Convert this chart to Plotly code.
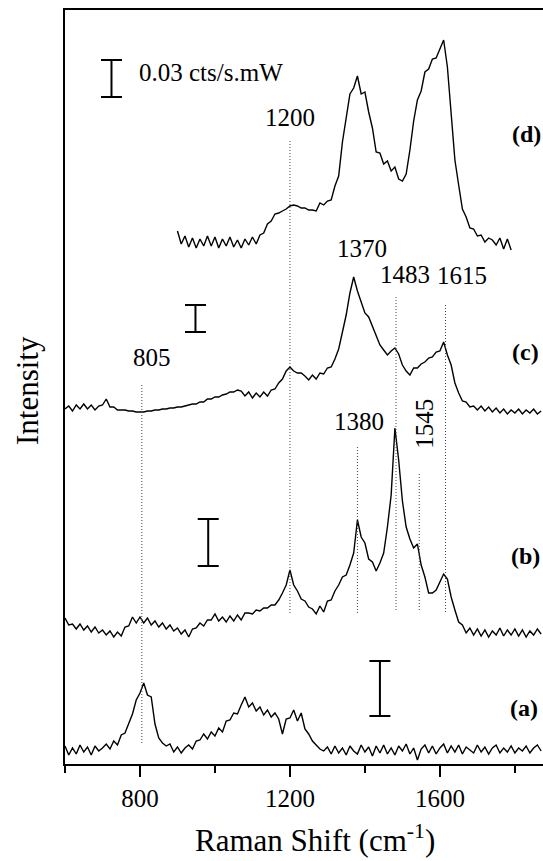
import plotly.graph_objects as go

# ---------------- data ----------------
X_FULL = list(range(600, 1880, 10))   # 600 ... 1870 cm-1
X_D = list(range(900, 1800, 10))      # 900 ... 1790 cm-1

# intensities (arbitrary offset units, stacked)
SPEC_A = [18, 9, 16, 10, 19, 12, 17, 9, 18, 13,
          16, 20, 15, 23, 19, 29, 31, 40, 50, 64,
          71, 81, 69, 67, 40, 26, 21, 18, 20, 12,
          17, 11, 16, 19, 15, 23, 24, 30, 25, 32,
          28, 36, 32, 43, 44, 51, 50, 59, 67, 57,
          61, 53, 57, 49, 54, 47, 51, 45, 30, 45,
          46, 54, 43, 51, 35, 30, 23, 19, 15, 13,
          17, 10, 18, 11, 16, 9, 18, 13, 10, 19,
          12, 17, 8, 18, 11, 19, 10, 16, 9, 18,
          13, 20, 10, 16, 4, 15, 19, 11, 18, 10,
          16, 20, 11, 18, 12, 19, 10, 17, 14, 11,
          19, 12, 17, 10, 16, 19, 11, 16, 12, 18,
          11, 16, 13, 18, 11, 16, 19, 13]

SPEC_B = [146, 139, 140, 135, 140, 134, 138, 132, 137, 131,
          134, 129, 133, 127, 132, 128, 137, 138, 147, 141,
          147, 141, 146, 139, 143, 137, 141, 135, 139, 133,
          136, 130, 134, 127, 135, 136, 141, 138, 144, 144,
          150, 143, 147, 142, 148, 143, 149, 144, 151, 151,
          150, 154, 153, 156, 156, 159, 159, 164, 171, 179,
          194, 179, 173, 165, 163, 157, 155, 150, 158, 152,
          163, 164, 173, 179, 187, 189, 199, 211, 244, 227,
          221, 205, 202, 193, 201, 211, 237, 269, 336, 304,
          263, 237, 225, 216, 220, 199, 187, 171, 171, 174,
          182, 190, 185, 167, 154, 142, 139, 131, 136, 129,
          135, 128, 134, 127, 133, 129, 136, 128, 134, 129,
          135, 128, 134, 127, 133, 129, 135, 130]

SPEC_C = [355, 358, 353, 359, 355, 360, 355, 359, 354, 358,
          359, 365, 357, 357, 354, 354, 354, 353, 353, 352,
          352, 352, 353, 353, 354, 354, 355, 355, 356, 356,
          357, 357, 358, 359, 360, 360, 362, 362, 365, 365,
          367, 367, 369, 370, 372, 372, 374, 373, 368, 372,
          366, 371, 367, 372, 368, 374, 375, 381, 385, 393,
          397, 393, 391, 391, 388, 384, 389, 385, 391, 390,
          396, 397, 405, 415, 433, 449, 471, 487, 473, 463,
          451, 447, 437, 429, 419, 414, 409, 413, 416, 410,
          399, 393, 389, 396, 396, 400, 402, 406, 407, 412,
          413, 422, 409, 399, 381, 371, 363, 362, 357, 358,
          354, 358, 353, 357, 352, 356, 351, 355, 350, 354,
          351, 355, 350, 354, 351, 355, 350, 353]

SPEC_D = [533, 520, 528, 517, 526, 516, 525, 518, 528, 518,
          527, 516, 525, 518, 527, 517, 524, 516, 525, 519,
          527, 520, 529, 531, 540, 543, 550, 551, 553, 555,
          558, 559, 558, 556, 556, 554, 554, 553, 561, 559,
          563, 564, 578, 588, 622, 648, 670, 676, 688, 670,
          672, 652, 636, 612, 611, 600, 603, 593, 597, 585,
          583, 590, 614, 643, 664, 673, 692, 695, 705, 706,
          716, 724, 697, 649, 604, 579, 555, 547, 536, 535,
          528, 529, 522, 526, 524, 519, 526, 515, 525, 514]

# dotted guide lines at assigned peaks
REF_PEAKS = [805, 1200, 1380, 1483, 1545, 1615]
REF_TOP = [381, 624, 317, 469, 292, 459]
REF_BOTTOM = [21, 151, 151, 154, 154, 152]

# scale bars (0.03 cts/s.mW for each spectrum)
BAR_X = [724, 948, 982, 1440]
BAR_LOW = [667, 432, 198, 48]
BAR_HIGH = [704, 459, 245, 103]
BAR_CAP = 28

# text labels
PEAK_LABELS = ["1200", "1370", "1483", "1615", "1380", "805"]
PEAK_LABEL_X = [1200, 1391, 1508, 1658, 1384, 832]
PEAK_LABEL_Y = [647, 516, 490, 489, 343, 407]
SERIES_LABELS = ["(d)", "(c)", "(b)", "(a)"]
SERIES_LABEL_X = [1832, 1827, 1829, 1824]
SERIES_LABEL_Y = [630, 412, 208, 56]

FONT = "Liberation Serif"

fig = go.Figure()

for xs, ys in [(X_FULL, SPEC_A), (X_FULL, SPEC_B), (X_FULL, SPEC_C), (X_D, SPEC_D)]:
    fig.add_trace(go.Scatter(x=xs, y=ys, mode="lines",
                             line=dict(color="black", width=1.4),
                             hoverinfo="skip", showlegend=False))

rx, ry = [], []
for p, t, b in zip(REF_PEAKS, REF_TOP, REF_BOTTOM):
    rx += [p, p, None]
    ry += [b, t, None]
fig.add_trace(go.Scatter(x=rx, y=ry, mode="lines",
                         line=dict(color="#444444", width=1, dash="1px,2px"),
                         hoverinfo="skip", showlegend=False))

bx, by = [], []
for cx, lo, hi in zip(BAR_X, BAR_LOW, BAR_HIGH):
    bx += [cx, cx, None, cx - BAR_CAP, cx + BAR_CAP, None, cx - BAR_CAP, cx + BAR_CAP, None]
    by += [lo, hi, None, lo, lo, None, hi, hi, None]
fig.add_trace(go.Scatter(x=bx, y=by, mode="lines",
                         line=dict(color="black", width=2),
                         hoverinfo="skip", showlegend=False))

ann = []
for t, x, y in zip(PEAK_LABELS, PEAK_LABEL_X, PEAK_LABEL_Y):
    ann.append(dict(x=x, y=y, xref="x", yref="y", text=t, showarrow=False,
                    xanchor="center", yanchor="middle",
                    font=dict(family=FONT, size=25, color="black")))
ann.append(dict(x=1557, y=340, xref="x", yref="y", text="1545", showarrow=False,
                textangle=-90, xanchor="center", yanchor="middle",
                font=dict(family=FONT, size=25, color="black")))
for t, x, y in zip(SERIES_LABELS, SERIES_LABEL_X, SERIES_LABEL_Y):
    ann.append(dict(x=x, y=y, xref="x", yref="y", text="<b>" + t + "</b>", showarrow=False,
                    xanchor="center", yanchor="middle",
                    font=dict(family=FONT, size=24, color="black")))
ann.append(dict(x=792, y=692, xref="x", yref="y", text="0.03 cts/s.mW", showarrow=False,
                xanchor="left", yanchor="middle", font=dict(family=FONT, size=25, color="black")))
ann.append(dict(x=1268, y=-0.127, xref="x", yref="paper", text="Raman Shift (cm<sup>-1</sup>)",
                showarrow=False, xanchor="center", yanchor="bottom",
                font=dict(family=FONT, size=31, color="black")))
ann.append(dict(x=-0.0795, y=374, xref="paper", yref="y", text="Intensity", textangle=-90,
                showarrow=False, xanchor="center", yanchor="middle",
                font=dict(family=FONT, size=31, color="black")))

fig.update_layout(
    width=543, height=861,
    margin=dict(l=65, r=0, t=10, b=97),
    paper_bgcolor="white", plot_bgcolor="white",
    annotations=ann,
    xaxis=dict(range=[600, 1875], showgrid=False, zeroline=False,
               showline=True, linecolor="black", linewidth=2, mirror=True,
               ticks="outside", ticklen=11, tickwidth=2, tickcolor="black",
               tick0=0, dtick=400,
               minor=dict(ticks="outside", ticklen=7, tickwidth=2, tickcolor="black", dtick=200, tick0=0),
               tickfont=dict(family=FONT, size=25, color="black")),
    yaxis=dict(range=[0, 754], showgrid=False, zeroline=False,
               showline=True, linecolor="black", linewidth=2,
               showticklabels=False, ticks=""),
)

fig.write_html("out.html")
